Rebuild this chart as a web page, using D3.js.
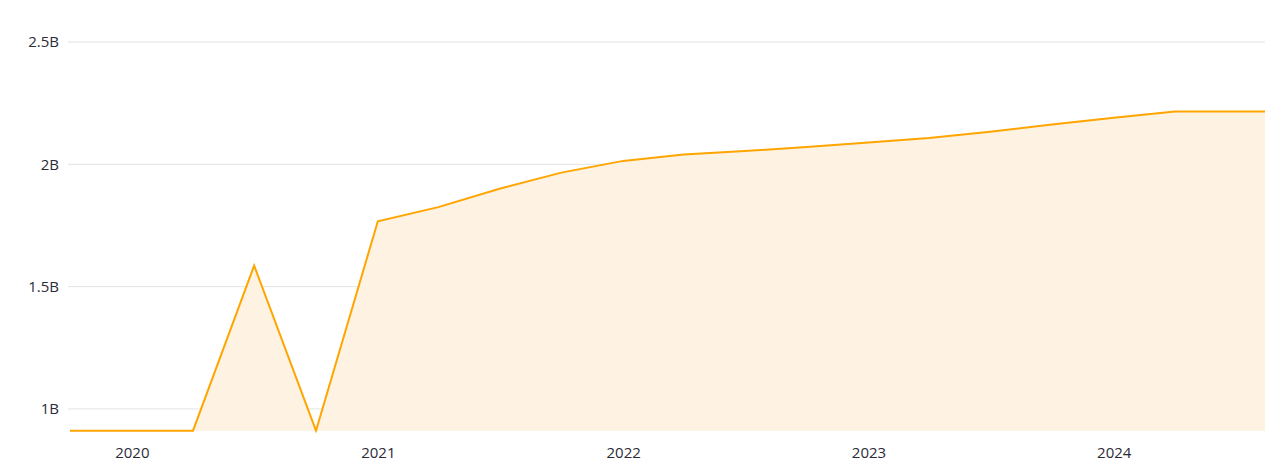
<!DOCTYPE html>
<html>
<head>
<meta charset="utf-8">
<script src="https://cdn.jsdelivr.net/npm/d3@7"></script>
<style>
  html, body { margin: 0; padding: 0; background: #fff; }
  svg { display: block; }
  text { font-family: "Open Sans", "Noto Sans", sans-serif; font-size: 15px; fill: #2b2b36; }
</style>
</head>
<body>
<svg id="chart" width="1280" height="469"></svg>
<script>
const dates = ["2019-10-01","2020-01-01","2020-04-01","2020-07-01","2020-10-01",
  "2021-01-01","2021-04-01","2021-07-01","2021-10-01",
  "2022-01-01","2022-04-01","2022-07-01","2022-10-01",
  "2023-01-01","2023-04-01","2023-07-01","2023-10-01",
  "2024-01-01","2024-04-01","2024-07-01","2024-10-01"];
const values = [0.91, 0.91, 0.91, 1.586, 0.91,
  1.767, 1.825, 1.90, 1.966,
  2.014, 2.040, 2.054, 2.071,
  2.089, 2.108, 2.133, 2.163,
  2.190, 2.216, 2.216, 2.216];
const yTicks = [1, 1.5, 2, 2.5];
const yTickLabels = ["1B", "1.5B", "2B", "2.5B"];
const xTickYears = [2020, 2021, 2022, 2023, 2024];
const xDomainEnd = "2024-08-13";

const parse = d3.timeParse("%Y-%m-%d");
const data = dates.map((d, i) => ({ date: parse(d), value: values[i] }));

const svg = d3.select("#chart");
const mLeft = 70, mRight = 1265, mTop = 42, mBottom = 430.7;

const x = d3.scaleTime().domain([data[0].date, parse(xDomainEnd)]).range([mLeft, mRight]);
const y = d3.scaleLinear().domain([0.911, 2.5]).range([mBottom, mTop]).clamp(true);

// gridlines
svg.append("g").selectAll("line").data(yTicks).join("line")
  .attr("x1", mLeft - 2).attr("x2", mRight)
  .attr("y1", d => y(d)).attr("y2", d => y(d))
  .attr("stroke", "#e3e3e3").attr("stroke-width", 1);

// y labels
svg.append("g").selectAll("text").data(yTicks).join("text")
  .attr("x", 59).attr("y", d => y(d)).attr("dy", "0.36em")
  .attr("text-anchor", "end")
  .text((d, i) => yTickLabels[i]);

// clip
svg.append("defs").append("clipPath").attr("id", "clip")
  .append("rect").attr("x", mLeft - 2).attr("y", 0).attr("width", mRight - mLeft + 2).attr("height", mBottom + 2);

const area = d3.area().x(d => x(d.date)).y0(y(0.911)).y1(d => y(d.value));
const line = d3.line().x(d => x(d.date)).y(d => y(d.value));

const g = svg.append("g").attr("clip-path", "url(#clip)");
g.append("path").datum(data).attr("d", area)
  .attr("fill", "#fef2e2");
g.append("path").datum(data).attr("d", line)
  .attr("fill", "none").attr("stroke", "#FFA500").attr("stroke-width", 2)
  .attr("stroke-linejoin", "miter");

// x axis labels
const xAxis = d3.axisBottom(x)
  .tickValues(xTickYears.map(yr => new Date(yr, 0, 1)))
  .tickFormat(d3.timeFormat("%Y"))
  .tickSize(0).tickPadding(0);
const ax = svg.append("g").attr("transform", `translate(0, 447)`).call(xAxis);
ax.select(".domain").remove();
ax.selectAll("text").attr("dy", "0.71em").style("font-size", "15px")
  .style("font-family", '"Open Sans", "Noto Sans", sans-serif').attr("fill", "#2b2b36");
</script>
</body>
</html>
